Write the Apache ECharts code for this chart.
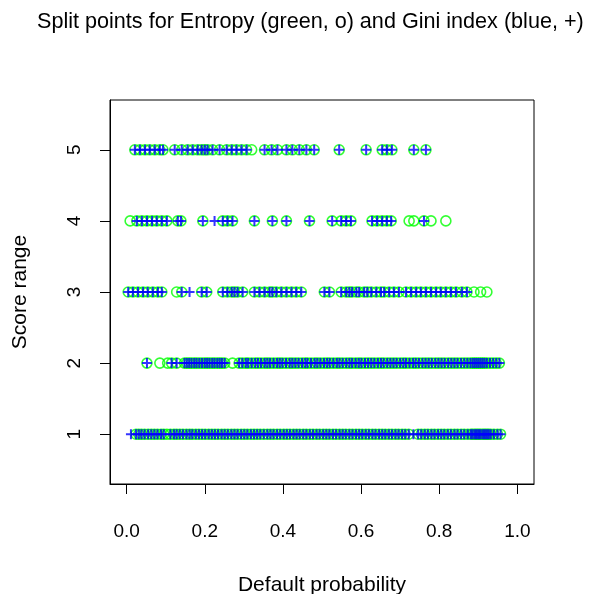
<!DOCTYPE html>
<html>
<head>
<meta charset="utf-8">
<script src="https://cdn.jsdelivr.net/npm/echarts@6/dist/echarts.min.js"></script>
<style>
  html, body { margin: 0; padding: 0; background: #fff; }
  #chart { width: 595px; height: 594px; }
</style>
</head>
<body>
<div id="chart"></div>
<script>
// Split points found on each score range, per splitting criterion
const scoreRanges = [1, 2, 3, 4, 5];
const xTickValues = [0, 0.2, 0.4, 0.6, 0.8, 1.0];
const xTickLabels = ['0.0', '0.2', '0.4', '0.6', '0.8', '1.0'];
const yTickLabels = ['1', '2', '3', '4', '5'];

const entropyR1 = [0.024,0.031,0.038,0.046,0.055,0.063,0.071,0.079,0.088,0.095,0.103,0.112,0.121,0.128,0.136,0.144,0.153,0.161,0.168,0.177,0.185,0.193,0.201,0.21,0.218,0.226,0.234,0.243,0.251,0.259,0.268,0.276,0.284,0.293,0.301,0.309,0.318,0.326,0.334,0.342,0.351,0.36,0.368,0.376,0.385,0.393,0.402,0.41,0.418,0.427,0.435,0.443,0.452,0.46,0.469,0.477,0.486,0.494,0.503,0.511,0.519,0.528,0.536,0.545,0.553,0.561,0.57,0.578,0.587,0.595,0.603,0.612,0.62,0.629,0.637,0.646,0.654,0.662,0.671,0.679,0.688,0.696,0.705,0.713,0.722,0.746,0.754,0.763,0.771,0.78,0.788,0.797,0.805,0.813,0.822,0.83,0.839,0.847,0.856,0.864,0.873,0.881,0.885,0.89,0.894,0.898,0.902,0.906,0.911,0.915,0.919,0.923,0.927,0.932,0.94,0.949,0.957];
const giniR1 = [0.011,0.024,0.031,0.038,0.046,0.055,0.063,0.071,0.079,0.088,0.095,0.112,0.121,0.128,0.136,0.144,0.153,0.161,0.168,0.177,0.185,0.193,0.201,0.21,0.218,0.226,0.234,0.243,0.251,0.259,0.268,0.276,0.284,0.293,0.301,0.309,0.318,0.326,0.334,0.342,0.351,0.36,0.368,0.376,0.385,0.393,0.402,0.41,0.418,0.427,0.435,0.443,0.452,0.46,0.469,0.477,0.486,0.494,0.503,0.511,0.519,0.528,0.536,0.545,0.553,0.561,0.57,0.578,0.587,0.595,0.603,0.612,0.62,0.629,0.637,0.646,0.654,0.662,0.671,0.679,0.688,0.696,0.705,0.713,0.722,0.734,0.746,0.754,0.763,0.771,0.78,0.788,0.797,0.805,0.813,0.822,0.83,0.839,0.847,0.856,0.864,0.873,0.881,0.885,0.89,0.894,0.898,0.902,0.906,0.911,0.915,0.919,0.923,0.927,0.932,0.94,0.949,0.957];

const entropyR2 = [0.052,0.085,0.105,0.115,0.128,0.148,0.154,0.16,0.166,0.173,0.179,0.186,0.193,0.2,0.206,0.212,0.219,0.225,0.232,0.238,0.244,0.251,0.271,0.288,0.296,0.305,0.311,0.32,0.329,0.336,0.344,0.353,0.36,0.367,0.376,0.385,0.392,0.399,0.408,0.417,0.424,0.432,0.44,0.449,0.457,0.463,0.472,0.481,0.488,0.496,0.505,0.513,0.52,0.529,0.538,0.545,0.553,0.562,0.57,0.577,0.586,0.594,0.601,0.61,0.618,0.626,0.634,0.643,0.651,0.658,0.667,0.675,0.683,0.691,0.7,0.708,0.715,0.724,0.733,0.74,0.748,0.757,0.765,0.773,0.781,0.79,0.798,0.806,0.814,0.823,0.831,0.839,0.847,0.856,0.864,0.872,0.88,0.886,0.891,0.896,0.901,0.906,0.911,0.916,0.922,0.93,0.938,0.946,0.954];
const giniR2 = [0.052,0.115,0.128,0.148,0.154,0.16,0.166,0.173,0.179,0.186,0.193,0.2,0.206,0.212,0.219,0.225,0.232,0.238,0.244,0.251,0.288,0.296,0.305,0.311,0.32,0.329,0.336,0.344,0.353,0.36,0.367,0.376,0.385,0.392,0.399,0.408,0.417,0.424,0.432,0.44,0.449,0.457,0.463,0.472,0.481,0.488,0.496,0.505,0.513,0.52,0.529,0.538,0.545,0.553,0.562,0.57,0.577,0.586,0.594,0.601,0.61,0.618,0.626,0.634,0.643,0.651,0.658,0.667,0.675,0.683,0.691,0.7,0.708,0.715,0.724,0.733,0.74,0.748,0.757,0.765,0.773,0.781,0.79,0.798,0.806,0.814,0.823,0.831,0.839,0.847,0.856,0.864,0.872,0.88,0.886,0.891,0.896,0.901,0.906,0.911,0.916,0.922,0.93,0.938,0.946,0.954];

const entropyR3 = [0.004,0.016,0.029,0.042,0.054,0.067,0.08,0.09,0.128,0.141,0.192,0.205,0.246,0.258,0.269,0.276,0.284,0.297,0.327,0.34,0.353,0.366,0.373,0.383,0.396,0.409,0.422,0.434,0.447,0.506,0.519,0.549,0.562,0.57,0.577,0.588,0.595,0.608,0.616,0.626,0.639,0.651,0.659,0.672,0.684,0.697,0.715,0.728,0.741,0.753,0.766,0.779,0.792,0.804,0.817,0.83,0.843,0.858,0.871,0.889,0.906,0.922];
const giniR3 = [0.004,0.016,0.029,0.042,0.054,0.067,0.08,0.09,0.141,0.161,0.192,0.205,0.246,0.258,0.269,0.276,0.284,0.297,0.327,0.34,0.353,0.366,0.373,0.383,0.396,0.409,0.422,0.434,0.447,0.506,0.519,0.549,0.562,0.57,0.577,0.588,0.595,0.608,0.616,0.626,0.639,0.651,0.659,0.672,0.684,0.697,0.715,0.728,0.741,0.753,0.766,0.779,0.792,0.804,0.817,0.83,0.843,0.858,0.871];

const entropyR4 = [0.009,0.026,0.039,0.052,0.065,0.077,0.09,0.103,0.131,0.139,0.195,0.246,0.258,0.271,0.327,0.373,0.409,0.468,0.526,0.549,0.562,0.574,0.628,0.641,0.654,0.666,0.677,0.723,0.735,0.761,0.779,0.817];
const giniR4 = [0.026,0.039,0.052,0.065,0.077,0.09,0.103,0.131,0.139,0.195,0.225,0.246,0.258,0.271,0.327,0.373,0.409,0.468,0.526,0.549,0.562,0.574,0.628,0.641,0.654,0.666,0.677,0.761];

const entropyR5 = [0.021,0.034,0.047,0.059,0.072,0.085,0.093,0.123,0.141,0.156,0.169,0.182,0.192,0.2,0.207,0.22,0.238,0.256,0.269,0.281,0.294,0.307,0.32,0.353,0.371,0.386,0.409,0.424,0.442,0.46,0.48,0.544,0.613,0.654,0.666,0.679,0.735,0.766];
const giniR5 = [0.021,0.034,0.047,0.059,0.072,0.085,0.093,0.123,0.141,0.156,0.169,0.182,0.192,0.2,0.207,0.22,0.238,0.256,0.269,0.281,0.294,0.307,0.353,0.371,0.386,0.409,0.424,0.442,0.46,0.48,0.544,0.613,0.654,0.666,0.679,0.735,0.766];

const entropyRows = [entropyR1, entropyR2, entropyR3, entropyR4, entropyR5];
const giniRows = [giniR1, giniR2, giniR3, giniR4, giniR5];

function toPoints(rows) {
  const pts = [];
  rows.forEach((xs, i) => xs.forEach(x => pts.push([x, scoreRanges[i]])));
  return pts;
}

const FONT = '"Liberation Sans", Arial, Helvetica, sans-serif';

function labelFor(values, labels) {
  return v => {
    const i = values.findIndex(t => Math.abs(t - v) < 1e-9);
    return i >= 0 ? labels[i] : '';
  };
}

const chart = echarts.init(document.getElementById('chart'), null, { renderer: 'canvas' });
chart.setOption({
  animation: false,
  backgroundColor: '#ffffff',
  title: {
    text: 'Split points for Entropy (green, o) and Gini index (blue, +)',
    left: 37,
    top: 11,
    padding: 0,
    textStyle: { fontFamily: FONT, fontSize: 21.6, fontWeight: 'normal', color: '#000' }
  },
  grid: {
    left: 110, top: 100, right: 61, bottom: 110,
    containLabel: false,
    outerBoundsMode: 'none',
    show: true, borderColor: '#000', borderWidth: 1, backgroundColor: 'transparent'
  },
  xAxis: {
    type: 'value',
    min: -0.0426, max: 1.0426,
    name: 'Default probability',
    nameLocation: 'middle',
    nameGap: 91,
    nameTextStyle: { fontFamily: FONT, fontSize: 21, color: '#000' },
    axisLine: { show: true, onZero: false, lineStyle: { color: '#000', width: 1 } },
    splitLine: { show: false },
    axisTick: { show: true, length: 10, customValues: xTickValues, lineStyle: { color: '#000', width: 1 } },
    axisLabel: {
      customValues: xTickValues,
      formatter: labelFor(xTickValues, xTickLabels),
      margin: 38,
      fontFamily: FONT, fontSize: 19, color: '#000'
    }
  },
  yAxis: {
    type: 'value',
    min: 0.3, max: 5.7,
    name: 'Score range',
    nameLocation: 'middle',
    nameRotate: 90,
    nameGap: 79,
    nameTextStyle: { fontFamily: FONT, fontSize: 21, color: '#000' },
    axisLine: { show: true, onZero: false, lineStyle: { color: '#000', width: 1 } },
    splitLine: { show: false },
    axisTick: { show: true, length: 10, customValues: scoreRanges, lineStyle: { color: '#000', width: 1 } },
    axisLabel: {
      customValues: scoreRanges,
      formatter: labelFor(scoreRanges, yTickLabels),
      rotate: 90,
      margin: 26,
      fontFamily: FONT, fontSize: 19, color: '#000'
    }
  },
  series: [
    {
      name: 'Entropy',
      type: 'scatter',
      symbol: 'circle',
      symbolSize: 10,
      itemStyle: { color: 'rgba(0,0,0,0)', borderColor: '#00ff00', borderWidth: 1.6 },
      data: toPoints(entropyRows)
    },
    {
      name: 'Gini index',
      type: 'scatter',
      symbol: 'path://M0,5H10M5,0V10',
      symbolSize: 10,
      itemStyle: { color: 'rgba(0,0,0,0)', borderColor: '#0000ff', borderWidth: 2 },
      data: toPoints(giniRows)
    }
  ]
});
</script>
</body>
</html>
